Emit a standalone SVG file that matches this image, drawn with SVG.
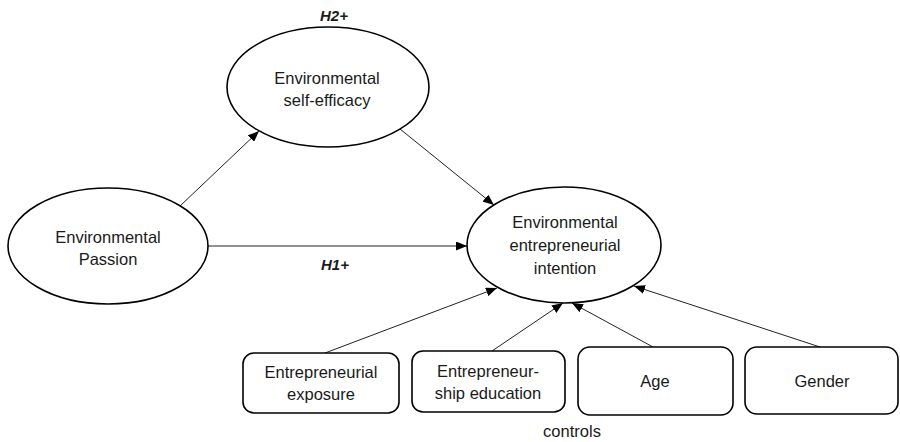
<svg xmlns="http://www.w3.org/2000/svg" width="900" height="442" viewBox="0 0 900 442">
  <style>
    .node { fill: #ffffff; stroke: #000000; stroke-width: 1.6; }
    .label { font-family: "Liberation Sans", Arial, sans-serif; font-size: 16.5px; fill: #1a1a1a; text-anchor: middle; }
    .hyp { font-family: "Liberation Sans", Arial, sans-serif; font-size: 15px; font-weight: bold; font-style: italic; fill: #1a1a1a; text-anchor: middle; }
    .edge { stroke: #222222; stroke-width: 1; fill: none; marker-end: url(#arrow); }
  </style>
  <defs>
    <marker id="arrow" markerUnits="userSpaceOnUse" markerWidth="11" markerHeight="9" refX="11" refY="4.5" orient="auto">
      <path d="M0,0 L11,4.5 L0,9 z" fill="#000000"/>
    </marker>
  </defs>
  <rect width="900" height="442" fill="#ffffff"/>

  <g id="connectors">
    <line class="edge" x1="180" y1="206" x2="259" y2="131"/>
    <line class="edge" x1="400" y1="129" x2="494" y2="205"/>
    <line class="edge" x1="208" y1="246" x2="467" y2="246"/>
    <line class="edge" x1="325" y1="353" x2="497" y2="288"/>
    <line class="edge" x1="492" y1="351" x2="563" y2="303"/>
    <line class="edge" x1="653" y1="347" x2="572" y2="303"/>
    <line class="edge" x1="820" y1="347" x2="634" y2="286"/>
  </g>

  <g id="self-efficacy">
    <ellipse class="node" cx="328" cy="87" rx="101" ry="60"/>
    <text class="label" x="327" y="84">Environmental</text>
    <text class="label" x="327" y="106">self-efficacy</text>
  </g>

  <g id="passion">
    <ellipse class="node" cx="108" cy="246" rx="100" ry="58"/>
    <text class="label" x="108" y="243">Environmental</text>
    <text class="label" x="108" y="265">Passion</text>
  </g>

  <g id="intention">
    <ellipse class="node" cx="564" cy="245" rx="97" ry="58"/>
    <text class="label" x="565" y="228">Environmental</text>
    <text class="label" x="565" y="251">entrepreneurial</text>
    <text class="label" x="565" y="274">intention</text>
  </g>

  <g id="exposure">
    <rect class="node" x="243" y="353" width="156" height="60" rx="11"/>
    <text class="label" x="321" y="378">Entrepreneurial</text>
    <text class="label" x="321" y="400">exposure</text>
  </g>

  <g id="education">
    <rect class="node" x="412" y="351" width="153" height="61" rx="11"/>
    <text class="label" x="488" y="377">Entrepreneur-</text>
    <text class="label" x="488" y="399">ship education</text>
  </g>

  <g id="age">
    <rect class="node" x="578" y="347" width="155" height="68" rx="12"/>
    <text class="label" x="655" y="387">Age</text>
  </g>

  <g id="gender">
    <rect class="node" x="745" y="347" width="153" height="67" rx="12"/>
    <text class="label" x="822" y="387">Gender</text>
  </g>

  <g id="annotations">
    <text class="hyp" x="334" y="21">H2+</text>
    <text class="hyp" x="335" y="270">H1+</text>
    <text class="label" x="572" y="437">controls</text>
  </g>
</svg>
